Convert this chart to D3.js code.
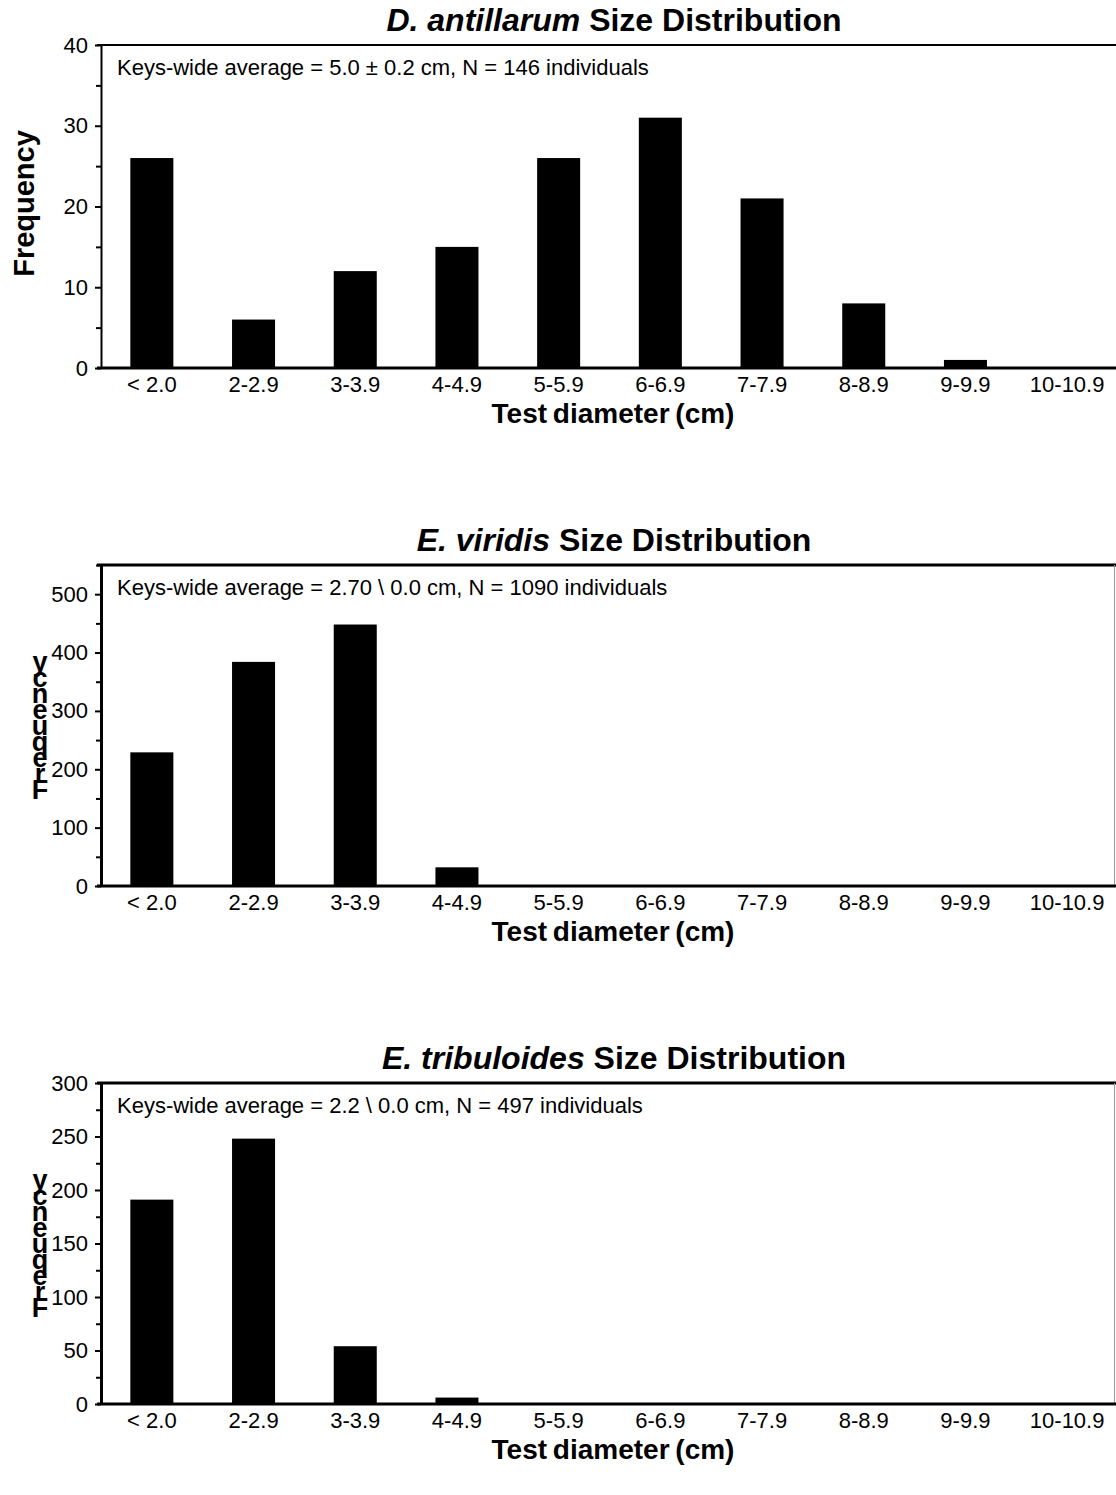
<!DOCTYPE html>
<html>
<head>
<meta charset="utf-8">
<script src="https://cdn.jsdelivr.net/npm/d3@7"></script>
<style>
  body { margin: 0; background: #fff; }
  text { font-family: "Liberation Sans", Arial, sans-serif; fill: #000; }
</style>
</head>
<body>
<script>
// size classes (test diameter, cm)
const categories = ['< 2.0', '2-2.9', '3-3.9', '4-4.9', '5-5.9', '6-6.9', '7-7.9', '8-8.9', '9-9.9', '10-10.9'];

// frequencies
const antillarumCounts = [26, 6, 12, 15, 26, 31, 21, 8, 1, 0];
const viridisCounts = [229, 384, 448, 32, 0, 0, 0, 0, 0, 0];
const tribuloidesCounts = [191, 248, 54, 6, 0, 0, 0, 0, 0, 0];

const antillarumTicks = [0, 10, 20, 30, 40];
const viridisTicks = [0, 100, 200, 300, 400, 500];
const tribuloidesTicks = [0, 50, 100, 150, 200, 250, 300];

const svgWidth = 1116;
const svgHeight = 1495;

const panels = [
    {
        species: 'D. antillarum', values: antillarumCounts, ticks: antillarumTicks, minorStep: 5, yMax: 40,
        note: 'Keys-wide average = 5.0 \u00b1 0.2 cm, N = 146 individuals',
        top: 45, bottom: 368, rotatedLabel: true, frame: false, axisWidth: 2
    },
    {
        species: 'E. viridis', values: viridisCounts, ticks: viridisTicks, minorStep: 50, yMax: 550,
        note: 'Keys-wide average = 2.70 \\  0.0 cm, N = 1090 individuals',
        top: 565, bottom: 886, rotatedLabel: false, frame: true, axisWidth: 3
    },
    {
        species: 'E. tribuloides', values: tribuloidesCounts, ticks: tribuloidesTicks, minorStep: 25, yMax: 300,
        note: 'Keys-wide average = 2.2 \\  0.0 cm, N = 497 individuals',
        top: 1083, bottom: 1404, rotatedLabel: false, frame: true, axisWidth: 3
    }
];

const plotLeft = 101;
const plotRight = 1118;

const svg = d3.select('body')
    .append('svg')
    .attr('width', svgWidth)
    .attr('height', svgHeight);

panels.forEach(p => draw_panel(svg, p));

function draw_panel(svg, p) {
    const g = svg.append('g');

    const scaleX = d3.scaleBand()
        .domain(categories)
        .range([plotLeft, plotRight])
        .paddingInner(0.577)
        .paddingOuter(0.2885);

    const scaleY = d3.scaleLinear()
        .domain([0, p.yMax])
        .range([p.bottom, p.top]);

    // title
    const title = g.append('text')
        .attr('x', 614)
        .attr('y', p.top - 14)
        .attr('text-anchor', 'middle')
        .style('font-size', '32px')
        .style('font-weight', 'bold');
    title.append('tspan').style('font-style', 'italic').text(p.species);
    title.append('tspan').text(' Size Distribution');

    // frame (top / right)
    g.append('line')
        .attr('x1', plotLeft - 4).attr('x2', svgWidth)
        .attr('y1', p.top).attr('y2', p.top)
        .attr('stroke', '#000').attr('stroke-width', p.frame ? 3 : 2);
    if (p.frame) {
        g.append('line')
            .attr('x1', svgWidth - 1.5).attr('x2', svgWidth - 1.5)
            .attr('y1', p.top).attr('y2', p.bottom)
            .attr('stroke', '#999').attr('stroke-width', 1);
    }

    // bars
    g.append('g').selectAll('rect')
        .data(categories.map((c, i) => [c, p.values[i]]))
        .join('rect')
        .attr('x', d => scaleX(d[0]))
        .attr('y', d => scaleY(d[1]))
        .attr('width', scaleX.bandwidth())
        .attr('height', d => p.bottom - scaleY(d[1]))
        .attr('fill', '#000');

    // minor ticks
    const minor = d3.range(0, p.yMax + 0.001, p.minorStep).filter(v => !p.ticks.includes(v));
    g.append('g')
        .attr('transform', `translate(${plotLeft},0)`)
        .call(d3.axisLeft(scaleY).tickValues(minor).tickSize(5).tickFormat(''))
        .call(a => a.select('.domain').remove())
        .call(a => a.selectAll('line').attr('stroke-width', 2));

    // y axis
    g.append('g')
        .attr('transform', `translate(${plotLeft},0)`)
        .call(d3.axisLeft(scaleY).tickValues(p.ticks).tickSize(6).tickPadding(7).tickSizeOuter(0))
        .call(a => a.select('.domain').attr('stroke-width', p.axisWidth))
        .call(a => a.selectAll('line').attr('stroke-width', 2))
        .call(a => a.selectAll('text').style('font-size', '22px').attr('font-family', null));

    // x axis
    g.append('g')
        .attr('transform', `translate(0,${p.bottom})`)
        .call(d3.axisBottom(scaleX).tickSize(0).tickPadding(8).tickSizeOuter(0))
        .call(a => a.select('.domain').attr('d', `M${plotLeft - 4},0H${svgWidth}`).attr('stroke-width', 3))
        .call(a => a.selectAll('text').style('font-size', '22px').attr('font-family', null));

    g.append('text')
        .attr('x', 613)
        .attr('y', p.bottom + 55)
        .attr('text-anchor', 'middle')
        .style('font-size', '28px')
        .style('font-weight', 'bold')
        .style('word-spacing', '-2px')
        .text('Test diameter (cm)');

    // note
    g.append('text')
        .attr('x', 117)
        .attr('y', p.top + 30)
        .style('font-size', '22px')
        .text(p.note);

    // y label
    const midY = (p.top + p.bottom) / 2;
    if (p.rotatedLabel) {
        g.append('text')
            .attr('transform', `translate(34,${midY - 3}) rotate(-90)`)
            .attr('text-anchor', 'middle')
            .style('font-size', '29px')
            .style('font-weight', 'bold')
            .text('Frequency');
    } else {
        // stacked letters, last letter on top
        const letters = 'Frequency'.split('').reverse();
        g.append('g').selectAll('text')
            .data(letters)
            .join('text')
            .attr('x', 40)
            .attr('y', (d, i) => midY - 64 + i * 16)
            .attr('text-anchor', 'middle')
            .attr('dominant-baseline', 'central')
            .style('font-size', '27px')
            .style('font-weight', 'bold')
            .text(d => d);
    }
}
</script>
</body>
</html>
